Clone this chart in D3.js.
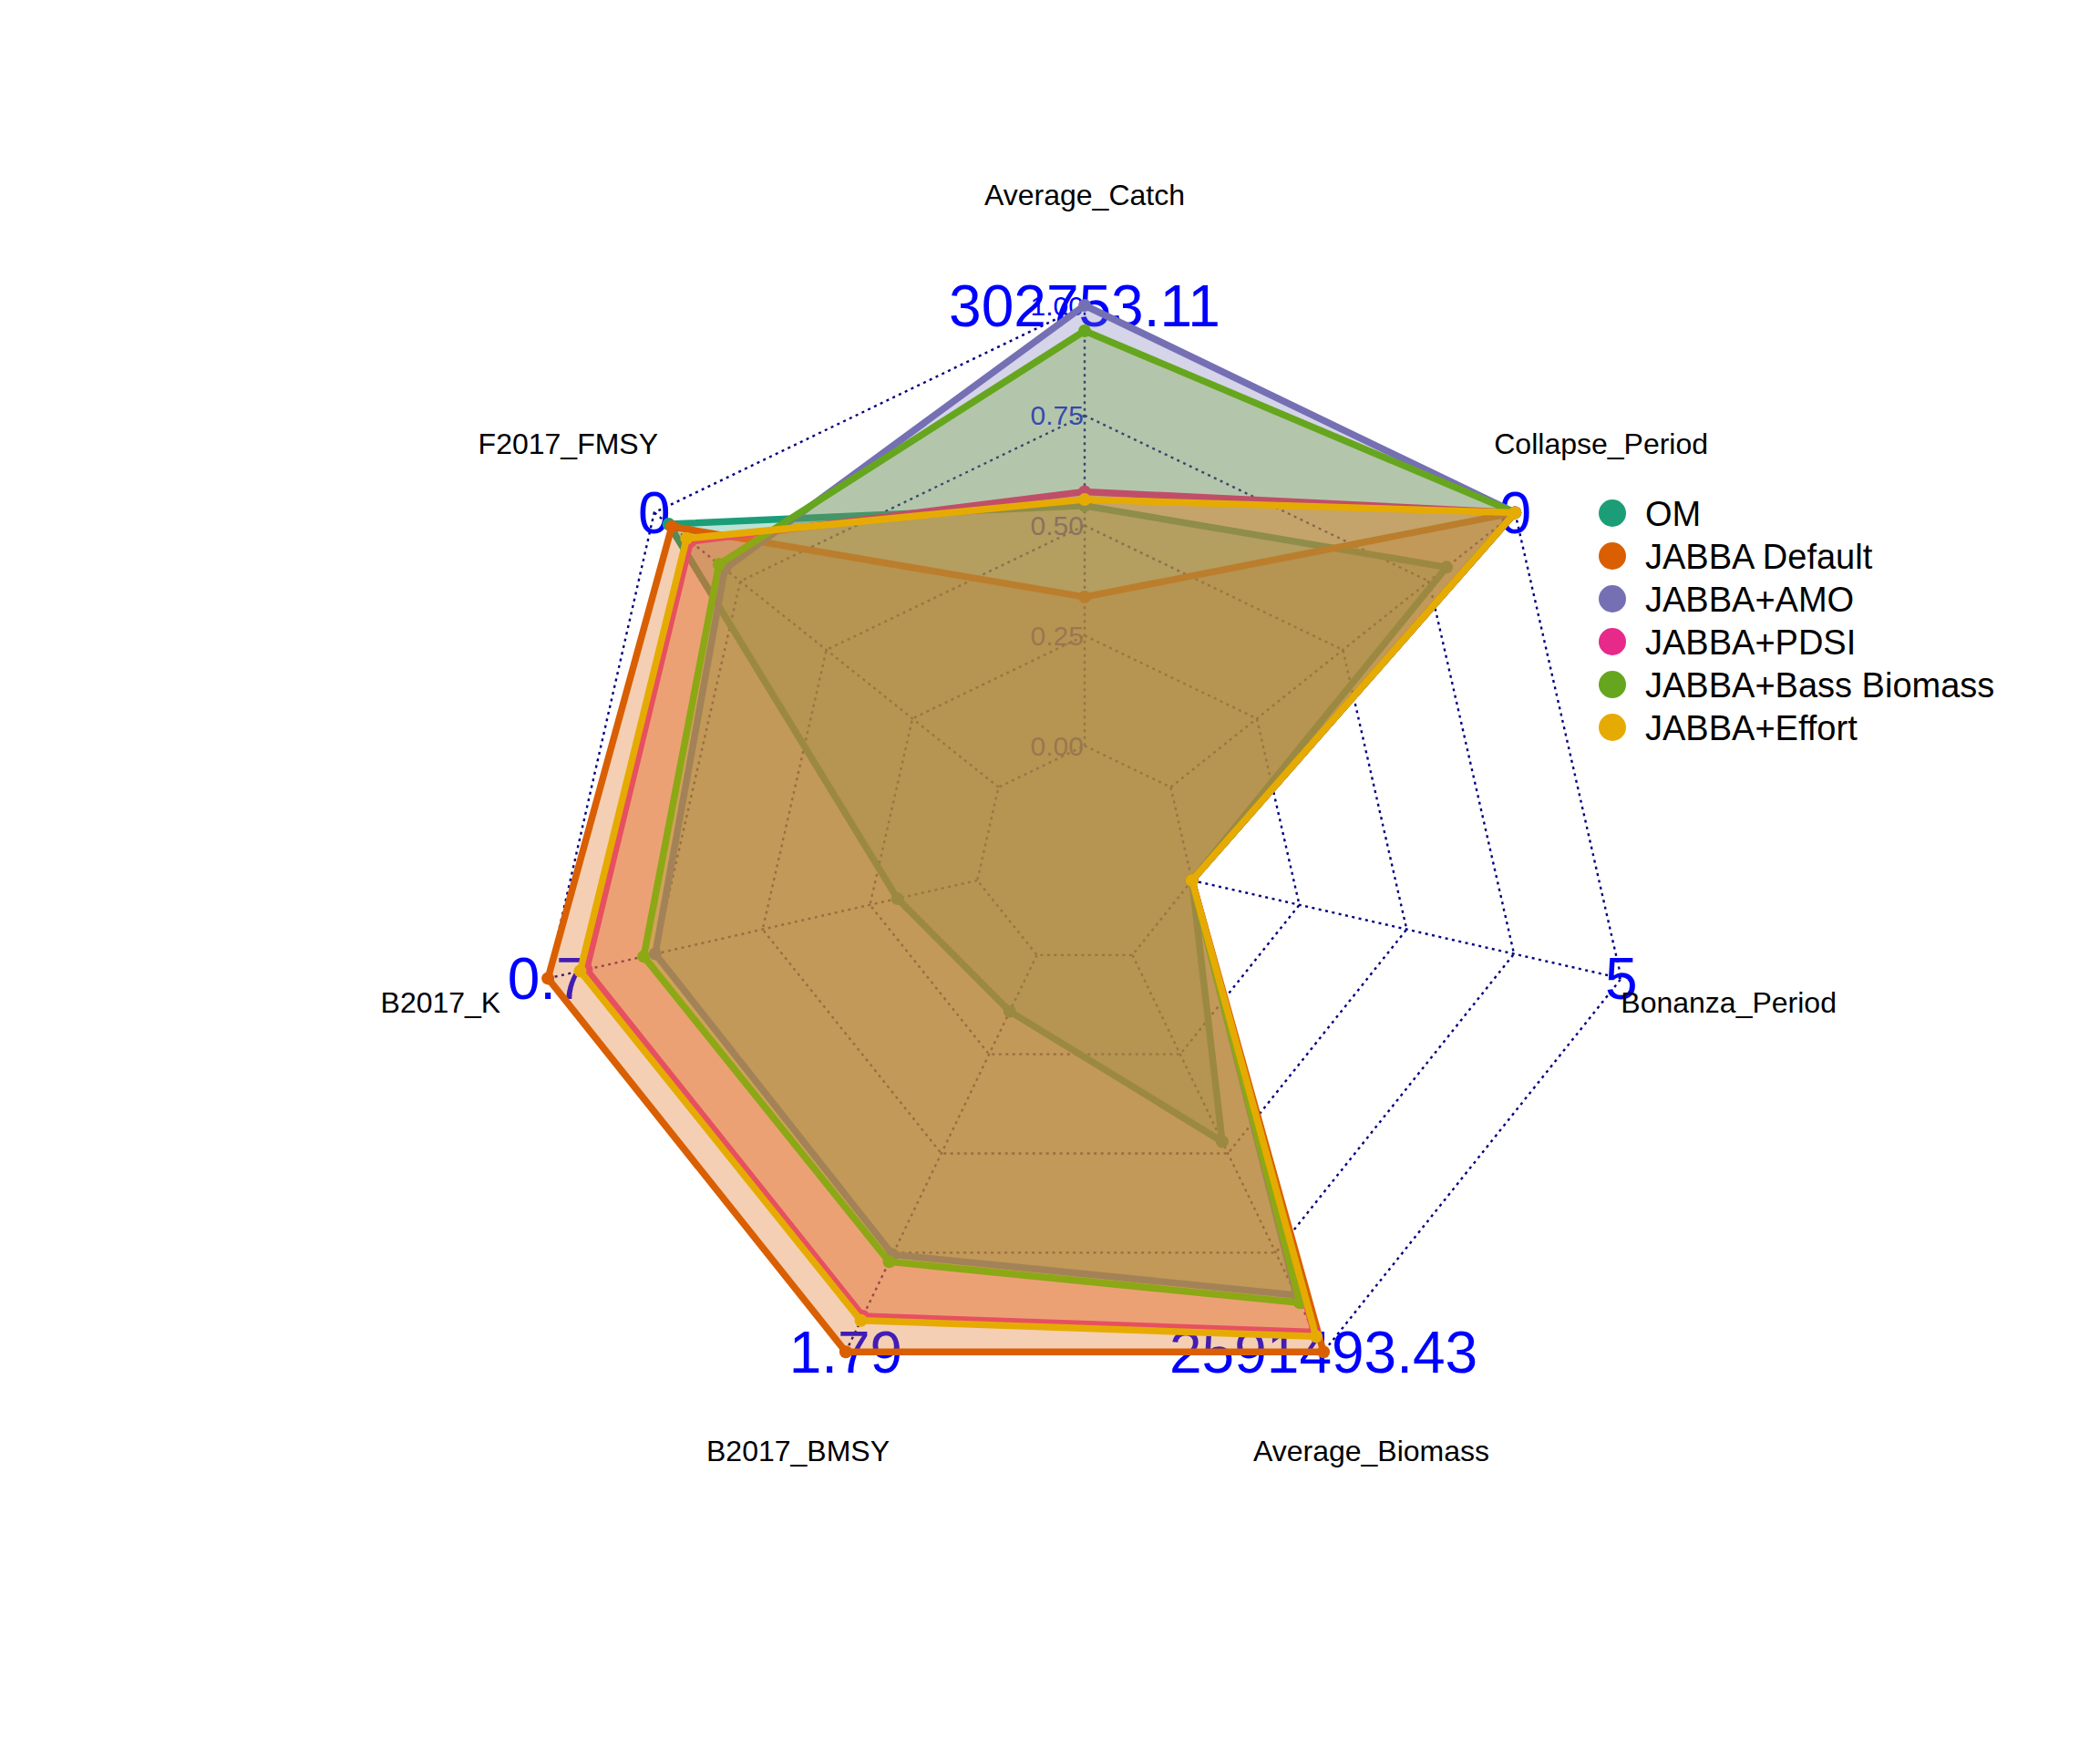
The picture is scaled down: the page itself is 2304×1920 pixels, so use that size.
<!DOCTYPE html>
<html><head><meta charset="utf-8">
<script src="https://cdn.jsdelivr.net/npm/d3@7"></script>
<style>html,body{margin:0;padding:0;background:#fff;} svg{display:block;}</style>
</head><body>
<svg id="chart" width="2304" height="1920"></svg>
<script>
// ---- data (clockwise from top) ----
const axes = ["Average_Catch","Collapse_Period","Bonanza_Period","Average_Biomass","B2017_BMSY","B2017_K","F2017_FMSY"];
const axisMaxLabels = ["302753.11","0","5","2591493.43","1.79","0.7","0"];
const gridLevels = [0, 0.25, 0.5, 0.75, 1];
const gridLabels = ["0.00","0.25","0.50","0.75","1.00"];
const seriesNames = ["OM","JABBA Default","JABBA+AMO","JABBA+PDSI","JABBA+Bass Biomass","JABBA+Effort"];
const seriesColors = ["#1B9E77","#D95F02","#7570B3","#E7298A","#66A61E","#E6AB02"];
const omValues      = [0.545, 0.801, 0, 0.470, 0.142, 0.186, 0.958];
const defaultValues = [0.338, 1.000, 0, 1.000, 1.000, 1.000, 0.949];
const amoValues     = [1.000, 1.000, 0, 0.857, 0.755, 0.750, 0.795];
const pdsiValues    = [0.577, 1.000, 0, 0.950, 0.910, 0.910, 0.895];
const bassValues    = [0.942, 1.000, 0, 0.876, 0.773, 0.777, 0.812];
const effortValues  = [0.559, 1.000, 0, 0.961, 0.921, 0.925, 0.906];
const seriesValues = [omValues, defaultValues, amoValues, pdsiValues, bassValues, effortValues];

// ---- layout ----
const FONT = "'Liberation Sans', Arial, Helvetica, sans-serif";
const cx = 1190, cy = 939, R = 604;
const svg = d3.select("#chart");
svg.append("rect").attr("width",2304).attr("height",1920).attr("fill","#fff");

const rScale = d3.scaleLinear().domain([0,1]).range([R/5, R]);
const aScale = d3.scaleLinear().domain([0, axes.length]).range([0, 2*Math.PI]);
const pt = (i, v) => [cx + rScale(v)*Math.sin(aScale(i)), cy - rScale(v)*Math.cos(aScale(i))];
const ptR = (i, r) => [cx + r*Math.sin(aScale(i)), cy - r*Math.cos(aScale(i))];
const closedLine = d3.line().curve(d3.curveLinearClosed);

const gridCol = "#000080", dash = "3,4.5", gridW = 2.4;

// grid rings + caxis labels
gridLevels.forEach((lv, k) => {
  svg.append("path")
    .attr("d", closedLine(axes.map((a,i) => pt(i, lv))))
    .attr("fill","none").attr("stroke",gridCol).attr("stroke-width",gridW)
    .attr("stroke-dasharray",dash);
  svg.append("text")
    .attr("x", cx - 0.05*R).attr("y", cy - rScale(lv)).attr("dy","0.35em")
    .attr("text-anchor","middle").attr("font-family",FONT).attr("font-size",30)
    .attr("fill","#0000FF").text(gridLabels[k]);
});
// spokes
axes.forEach((a,i) => {
  const p0 = pt(i,0), p1 = pt(i,1);
  svg.append("line").attr("x1",p0[0]).attr("y1",p0[1]).attr("x2",p1[0]).attr("y2",p1[1])
    .attr("stroke",gridCol).attr("stroke-width",gridW).attr("stroke-dasharray",dash);
});
// axis max labels
axes.forEach((a,i) => {
  const p = pt(i,1);
  svg.append("text").attr("x",p[0]).attr("y",p[1]).attr("dy","0.36em")
    .attr("text-anchor","middle").attr("font-family",FONT).attr("font-size",64)
    .attr("fill","#0000FF").text(axisMaxLabels[i]);
});
// variable labels
axes.forEach((a,i) => {
  const p = ptR(i, 1.2*R);
  svg.append("text").attr("x",p[0]).attr("y",p[1]).attr("dy","0.35em")
    .attr("text-anchor","middle").attr("font-family",FONT).attr("font-size",32)
    .attr("fill","#000").text(a);
});
// series
seriesValues.forEach((vals, s) => {
  const pts = vals.map((v,i) => pt(i,v));
  svg.append("path").attr("d", closedLine(pts))
    .attr("fill", seriesColors[s]).attr("fill-opacity",0.3)
    .attr("stroke", seriesColors[s]).attr("stroke-width",7.5)
    .attr("stroke-linejoin","round");
  svg.selectAll(null).data(pts).enter().append("circle")
    .attr("cx", d => d[0]).attr("cy", d => d[1]).attr("r",7)
    .attr("fill", seriesColors[s]);
});
// legend
const lg = svg.append("g");
seriesNames.forEach((n, s) => {
  const y = 563 + 47*s;
  lg.append("circle").attr("cx",1769).attr("cy",y).attr("r",15).attr("fill",seriesColors[s]);
  lg.append("text").attr("x",1805).attr("y",y).attr("dy","0.36em")
    .attr("font-family",FONT).attr("font-size",38).attr("fill","#000").text(n);
});
</script>
</body></html>
